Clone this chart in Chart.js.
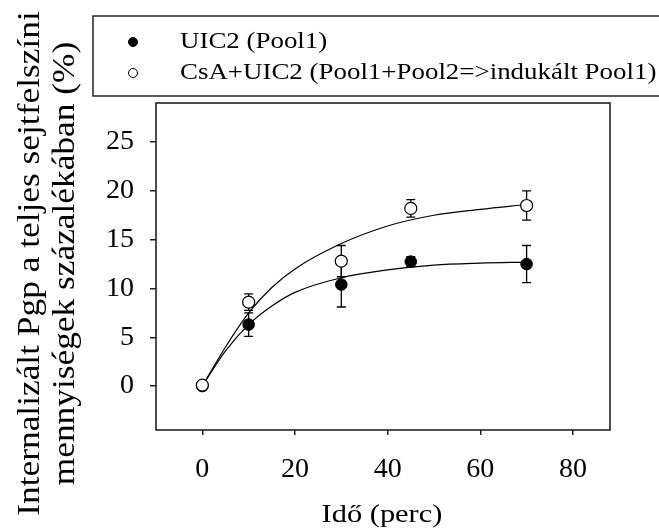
<!DOCTYPE html>
<html>
<head>
<meta charset="utf-8">
<script src="https://cdn.jsdelivr.net/npm/chart.js@4/dist/chart.umd.min.js"></script>
<style>
  html, body { margin: 0; padding: 0; background: #fff; }
  #wrap { width: 659px; height: 529px; }
</style>
</head>
<body>
<div id="wrap"><canvas id="chart" width="659" height="529"></canvas></div>
<script>
// Internalizált Pgp — time course, two treatments with fitted curves
var times = [0, 10, 30, 45, 70];
var uicMean = [0, 6.3, 10.4, 12.75, 12.5];
var uicErr = [0, 1.2, 2.3, 0.5, 1.9];
var csaMean = [0.1, 8.6, 12.8, 18.2, 18.5];
var csaErr = [0, 0.85, 1.6, 0.9, 1.5];

// fitted curves
var fitX = [0, 5, 10, 15, 20, 30, 40, 50, 60, 70];
var uicFit = [0, 3.6, 6.3, 8.2, 9.6, 11.1, 11.9, 12.4, 12.6, 12.7];
var csaFit = [0, 4.0, 7.5, 10.1, 12.0, 14.6, 16.4, 17.5, 18.1, 18.6];

var xTicks = [0, 20, 40, 60, 80];
var yTicks = [0, 5, 10, 15, 20, 25];

var legendLabels = ["UIC2 (Pool1)", "CsA+UIC2 (Pool1+Pool2=>indukált Pool1)"];
var yTitle = ["Internalizált Pgp a teljes sejtfelszíni", "mennyiségek százalékában (%)"];
var xTitle = "Idő (perc)";

var FONT = "'Liberation Serif', 'Times New Roman', serif";

function pts(xs, ys) {
  return xs.map(function (x, i) { return { x: x, y: ys[i] }; });
}

// the original lettering is a little wider than Times, so stretch it
function wideText(ctx, text, x, y, sx) {
  ctx.save();
  ctx.translate(x, y);
  ctx.scale(sx, 1);
  ctx.fillText(text, 0, 0);
  ctx.restore();
}

var errorBars = {
  id: "errorBars",
  beforeDatasetsDraw: function (chart) {
    var ctx = chart.ctx, xs = chart.scales.x, ys = chart.scales.y;
    ctx.save();
    ctx.strokeStyle = "#000";
    ctx.lineWidth = 1.3;
    [[uicMean, uicErr], [csaMean, csaErr]].forEach(function (s) {
      times.forEach(function (t, i) {
        if (!s[1][i]) return;
        var px = xs.getPixelForValue(t);
        var top = ys.getPixelForValue(s[0][i] + s[1][i]);
        var bot = ys.getPixelForValue(s[0][i] - s[1][i]);
        ctx.beginPath();
        ctx.moveTo(px, top); ctx.lineTo(px, bot);
        ctx.moveTo(px - 4.5, top); ctx.lineTo(px + 4.5, top);
        ctx.moveTo(px - 4.5, bot); ctx.lineTo(px + 4.5, bot);
        ctx.stroke();
      });
    });
    ctx.restore();
  }
};

var decor = {
  id: "decor",
  afterDraw: function (chart) {
    var ctx = chart.ctx, a = chart.chartArea;
    var midY = (a.top + a.bottom) / 2 - 3;
    ctx.save();
    // frame
    ctx.strokeStyle = "#222";
    ctx.lineWidth = 1.6;
    ctx.strokeRect(a.left, a.top, a.right - a.left, a.bottom - a.top);

    ctx.fillStyle = "#000";
    // x title
    ctx.font = "26px " + FONT;
    ctx.textAlign = "center";
    ctx.textBaseline = "alphabetic";
    wideText(ctx, xTitle, (a.left + a.right) / 2 - 1, 522, 1.17);

    // y title (two lines)
    ctx.font = "31px " + FONT;
    ctx.textBaseline = "middle";
    [[31, yTitle[0]], [66, yTitle[1]]].forEach(function (l) {
      ctx.save();
      ctx.translate(l[0], midY);
      ctx.rotate(-Math.PI / 2);
      wideText(ctx, l[1], 0, 0, 1.14);
      ctx.restore();
    });

    // legend box
    ctx.lineWidth = 1.5;
    ctx.strokeStyle = "#222";
    ctx.strokeRect(93, 16, 620, 80);
    var rows = [42, 73];
    ctx.font = "23px " + FONT;
    ctx.textAlign = "left";
    rows.forEach(function (y, i) {
      ctx.beginPath();
      ctx.arc(133, y, 4.5, 0, Math.PI * 2);
      ctx.fillStyle = i === 0 ? "#000" : "#fff";
      ctx.fill();
      ctx.lineWidth = 1;
      ctx.strokeStyle = "#000";
      ctx.stroke();
      ctx.fillStyle = "#000";
      wideText(ctx, legendLabels[i], 180, y, 1.17);
    });
    ctx.restore();
  }
};

new Chart(document.getElementById("chart").getContext("2d"), {
  type: "scatter",
  data: {
    datasets: [
      {
        data: pts(times, csaMean), pointRadius: 6, pointBackgroundColor: "#fff",
        pointBorderColor: "#000", pointBorderWidth: 1.2
      },
      {
        data: pts(times, uicMean), pointRadius: 5.8, pointBackgroundColor: "#000",
        pointBorderColor: "#000", pointBorderWidth: 1
      },
      {
        type: "line", data: pts(fitX, uicFit), borderColor: "#000", borderWidth: 1.2,
        pointRadius: 0, cubicInterpolationMode: "monotone", fill: false
      },
      {
        type: "line", data: pts(fitX, csaFit), borderColor: "#000", borderWidth: 1.2,
        pointRadius: 0, cubicInterpolationMode: "monotone", fill: false
      }
    ]
  },
  options: {
    responsive: false,
    animation: false,
    events: [],
    layout: { padding: { top: 103, right: 49, left: 0, bottom: 0 } },
    plugins: { legend: { display: false }, tooltip: { enabled: false } },
    scales: {
      x: {
        type: "linear", min: -10, max: 88,
        afterBuildTicks: function (s) { s.ticks = xTicks.map(function (v) { return { value: v }; }); },
        afterFit: function (s) { s.height = 99; },
        grid: { drawOnChartArea: false, drawTicks: true, tickLength: 5, color: "#222", lineWidth: 1.5 },
        border: { display: false },
        ticks: { color: "#000", padding: 18, maxRotation: 0, font: { family: FONT, size: 28 } }
      },
      y: {
        type: "linear", min: -4.5, max: 29,
        afterBuildTicks: function (s) { s.ticks = yTicks.map(function (v) { return { value: v }; }); },
        afterFit: function (s) { s.width = 156; },
        grid: { drawOnChartArea: false, drawTicks: true, tickLength: 6, color: "#222", lineWidth: 1.5 },
        border: { display: false },
        ticks: { color: "#000", padding: 16, font: { family: FONT, size: 28 } }
      }
    }
  },
  plugins: [errorBars, decor]
});
</script>
</body>
</html>
